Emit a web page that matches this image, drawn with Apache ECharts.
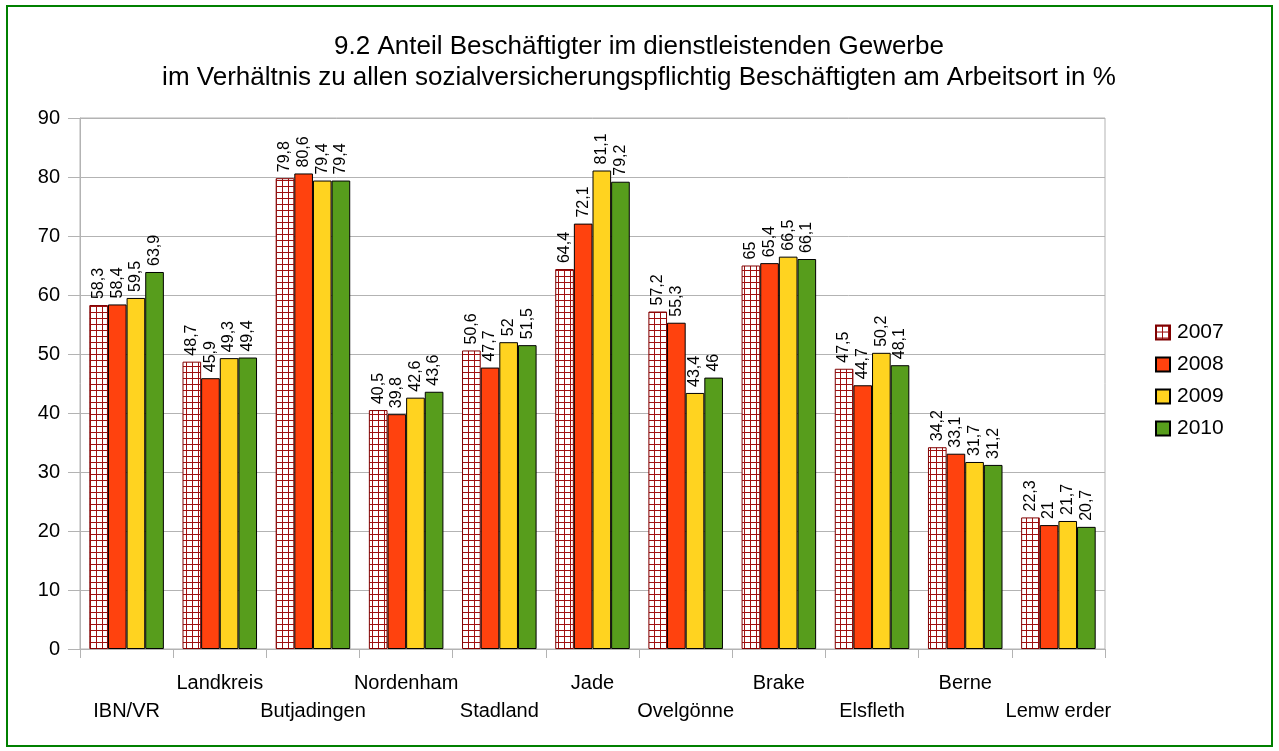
<!DOCTYPE html>
<html>
<head>
<meta charset="utf-8">
<script src="https://cdn.jsdelivr.net/npm/echarts@6/dist/echarts.min.js"></script>
<style>
  html, body { margin: 0; padding: 0; background: #fff; }
  #frame { position: absolute; left: 6px; top: 5px; width: 1263px; height: 738px; border: 2px solid #008000; }
  #chart { width: 1279px; height: 751px; position: absolute; left: 0; top: 0; }
</style>
</head>
<body>
<div id="frame"></div>
<div id="chart"></div>
<script>
// Kategorien und Werte
var categories = ['IBN/VR', 'Landkreis', 'Butjadingen', 'Nordenham', 'Stadland', 'Jade', 'Ovelgönne', 'Brake', 'Elsfleth', 'Berne', 'Lemw erder'];
var years = ['2007', '2008', '2009', '2010'];
var v2007 = [58.3, 48.7, 79.8, 40.5, 50.6, 64.4, 57.2, 65, 47.5, 34.2, 22.3];
var v2008 = [58.4, 45.9, 80.6, 39.8, 47.7, 72.1, 55.3, 65.4, 44.7, 33.1, 21];
var v2009 = [59.5, 49.3, 79.4, 42.6, 52, 81.1, 43.4, 66.5, 50.2, 31.7, 21.7];
var v2010 = [63.9, 49.4, 79.4, 43.6, 51.5, 79.2, 46, 66.1, 48.1, 31.2, 20.7];

// Gittermuster für 2007
var pat = document.createElement('canvas');
pat.width = 6; pat.height = 6;
var ctx = pat.getContext('2d');
ctx.fillStyle = '#ffffff';
ctx.fillRect(0, 0, 6, 6);
ctx.fillStyle = '#a01010';
ctx.fillRect(0, 0, 6, 1);
ctx.fillRect(0, 0, 1, 6);

var chart = echarts.init(document.getElementById('chart'));

function mkSeries(name, data, color, border) {
    return {
        name: name,
        type: 'bar',
        data: data,
        barGap: 0,
        barCategoryGap: '20%',
        itemStyle: { color: color, borderColor: border, borderWidth: 1 },
        label: {
            show: true,
            position: 'top',
            rotate: 90,
            align: 'left',
            verticalAlign: 'middle',
            distance: 6,
            fontFamily: 'Liberation Sans',
            fontSize: 16,
            color: '#000',
            formatter: function (p) { return String(p.value).replace('.', ','); }
        }
    };
}

var option = {
    animation: false,
    title: {
        text: '9.2 Anteil Beschäftigter im dienstleistenden Gewerbe\nim Verhältnis zu allen sozialversicherungspflichtig Beschäftigten am Arbeitsort in %',
        left: 634,
        textAlign: 'center',
        top: 26,
        textStyle: { fontFamily: 'Liberation Sans', fontSize: 26, fontWeight: 'normal', color: '#000', lineHeight: 31 }
    },
    legend: {
        orient: 'vertical',
        left: 1150,
        top: 317,
        itemWidth: 14,
        itemHeight: 14,
        itemGap: 11,
        icon: 'rect',
        data: years,
        textStyle: { fontFamily: 'Liberation Sans', fontSize: 21, color: '#000', padding: [2, 0, 0, 2] }
    },
    grid: {
        left: 80, right: 174, top: 118, bottom: 102,
        show: true, borderColor: '#b3b3b3', borderWidth: 1
    },
    xAxis: {
        type: 'category',
        data: categories,
        axisLine: { lineStyle: { color: '#b3b3b3' } },
        axisTick: { show: true, length: 9, lineStyle: { color: '#b3b3b3' } },
        axisLabel: {
            interval: 0,
            margin: 20,
            fontFamily: 'Liberation Sans',
            fontSize: 20,
            color: '#000',
            lineHeight: 28,
            formatter: function (v, i) { return i % 2 === 0 ? '\n' + v : v; }
        }
    },
    yAxis: {
        type: 'value',
        min: 0, max: 90, interval: 10,
        axisLine: { show: true, lineStyle: { color: '#b3b3b3' } },
        axisTick: { show: true, length: 12, lineStyle: { color: '#b3b3b3' } },
        splitLine: { lineStyle: { color: '#b3b3b3' } },
        axisLabel: { fontFamily: 'Liberation Sans', fontSize: 20, color: '#000', margin: 20 }
    },
    series: [
        mkSeries('2007', v2007, { image: pat, repeat: 'repeat' }, '#800000'),
        mkSeries('2008', v2008, '#ff420e', '#000'),
        mkSeries('2009', v2009, '#ffd320', '#000'),
        mkSeries('2010', v2010, '#579d1c', '#000')
    ]
};
chart.setOption(option);
</script>
</body>
</html>
